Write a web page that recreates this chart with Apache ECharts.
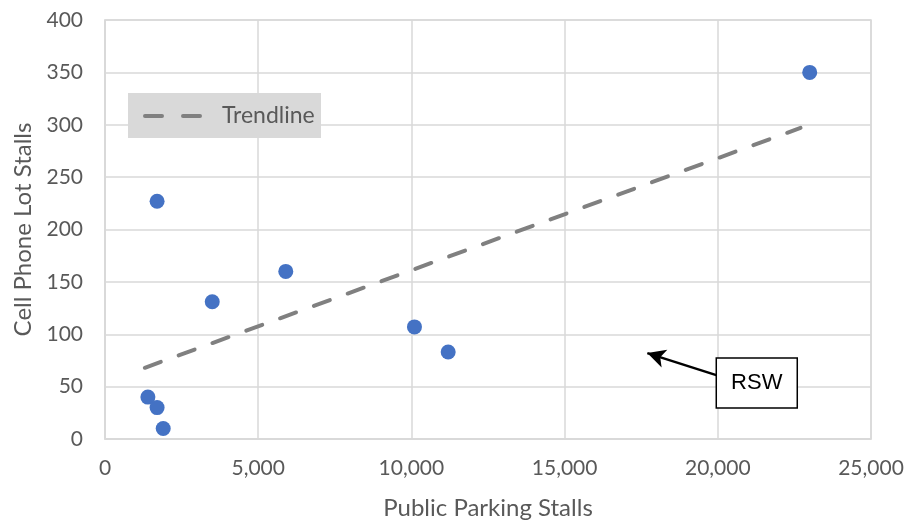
<!DOCTYPE html>
<html>
<head>
<meta charset="utf-8">
<script src="https://cdn.jsdelivr.net/npm/echarts@6/dist/echarts.min.js"></script>
<style>
  html, body { margin: 0; padding: 0; background: #fff; }
  #chart { width: 906px; height: 523px; }
</style>
</head>
<body>
<div id="chart"></div>
<script>
// Airport parking data: public stalls vs. cell phone lot stalls
const publicStalls = [23000, 1700, 5900, 3500, 10100, 11200, 1400, 1700, 1900];
const cellLotStalls = [350, 227, 160, 131, 107, 83, 40, 30, 10];

// Linear trendline endpoints
const trendX = [1300, 22700];
const trendY = [68, 297];

// Callout for RSW
const calloutLabel = 'RSW';
const calloutTip = [17700, 82];
const calloutBoxAnchor = [19950, 61];

const legendLabel = 'Trendline';
const xTitle = 'Public Parking Stalls';
const yTitle = 'Cell Phone Lot Stalls';

const font = 'Lato, "Open Sans", sans-serif';
const textColor = '#595959';

const chart = echarts.init(document.getElementById('chart'), null, { renderer: 'canvas' });

chart.setOption({
  animation: false,
  grid: {
    left: 105, right: 35, top: 20, bottom: 84,
    outerBoundsMode: 'none', containLabel: false,
    show: true, borderColor: '#d9d9d9', borderWidth: 1.5
  },
  xAxis: {
    type: 'value', min: 0, max: 25000, interval: 5000,
    name: xTitle, nameLocation: 'middle', nameGap: 57,
    nameTextStyle: { fontFamily: font, fontSize: 24, color: textColor },
    axisLine: { show: true, lineStyle: { color: '#d9d9d9', width: 1.5 } },
    axisTick: { show: false },
    splitLine: { show: true, lineStyle: { color: '#d9d9d9', width: 1.5 } },
    axisLabel: {
      fontFamily: font, fontSize: 21, color: textColor, margin: 19,
      formatter: v => v.toLocaleString('en-US')
    }
  },
  yAxis: {
    type: 'value', min: 0, max: 400, interval: 50,
    name: yTitle, nameLocation: 'middle', nameGap: 68,
    nameTextStyle: { fontFamily: font, fontSize: 24, color: textColor },
    axisLine: { show: true, lineStyle: { color: '#d9d9d9', width: 1.5 } },
    axisTick: { show: false },
    splitLine: { show: true, lineStyle: { color: '#d9d9d9', width: 1.5 } },
    axisLabel: { fontFamily: font, fontSize: 21, color: textColor, margin: 22 }
  },
  series: [
    {
      type: 'line',
      name: legendLabel,
      data: trendX.map((x, i) => [x, trendY[i]]),
      showSymbol: false,
      z: 2,
      lineStyle: { color: '#808080', width: 4, type: [17, 19], cap: 'round' },
      markLine: {
        silent: true,
        symbolSize: [14, 18],
        label: { show: false },
        lineStyle: { color: '#000', width: 2.5, type: 'solid' },
        data: [[
          { coord: calloutTip, symbol: 'arrow' },
          { coord: calloutBoxAnchor, symbol: 'none' }
        ]]
      }
    },
    {
      type: 'scatter',
      data: publicStalls.map((x, i) => [x, cellLotStalls[i]]),
      symbolSize: 15,
      z: 3,
      itemStyle: { color: '#4472C4', opacity: 1 }
    }
  ]
});

// Legend box and callout box placed relative to the chart's coordinate system
const anchor = chart.convertToPixel({ gridIndex: 0 }, calloutBoxAnchor);
chart.setOption({
  graphic: [
    {
      type: 'group', left: 128, top: 93,
      children: [
        { type: 'rect', shape: { x: 0, y: 0, width: 193, height: 45 }, style: { fill: '#d9d9d9' } },
        { type: 'line', shape: { x1: 17, y1: 23, x2: 76, y2: 23 },
          style: { stroke: '#808080', lineWidth: 4, lineDash: [17, 21], lineCap: 'round' } },
        { type: 'text', style: { x: 94, y: 23, text: legendLabel, fontFamily: font, fontSize: 23,
          fill: textColor, verticalAlign: 'middle' } }
      ]
    },
    {
      type: 'group', x: anchor[0], y: anchor[1] - 17,
      children: [
        { type: 'rect', shape: { x: 0, y: 0, width: 81, height: 50 },
          style: { fill: '#fff', stroke: '#000', lineWidth: 1.5 } },
        { type: 'text', style: { x: 40.5, y: 25, text: calloutLabel, fontFamily: '"Liberation Sans", Arial, sans-serif',
          fontSize: 22, fill: '#000', align: 'center', verticalAlign: 'middle' } }
      ]
    }
  ]
});
</script>
</body>
</html>
